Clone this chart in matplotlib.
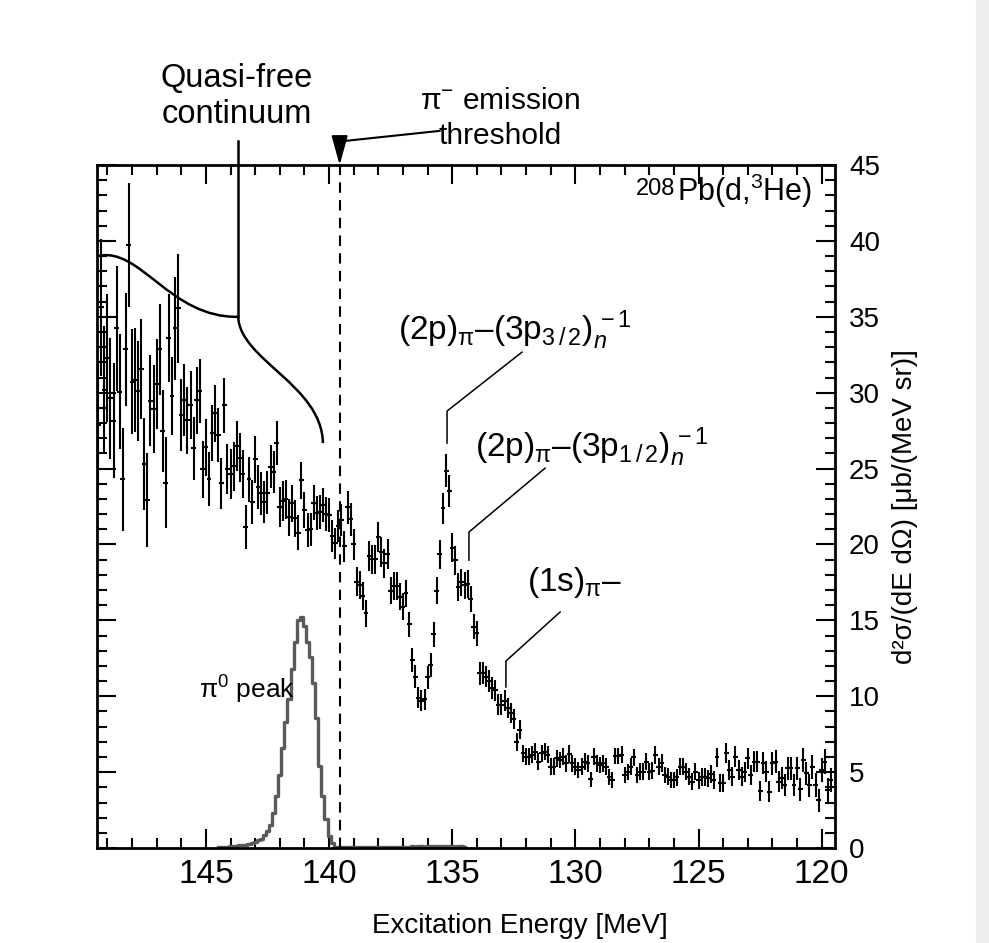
import numpy as np
import matplotlib.pyplot as plt
from matplotlib.ticker import MultipleLocator
from matplotlib.path import Path
from matplotlib.patches import PathPatch, Rectangle

plt.rcParams['font.family'] = ['Liberation Sans', 'DejaVu Sans']
plt.rcParams['mathtext.fontset'] = 'custom'
plt.rcParams['mathtext.rm'] = 'Liberation Sans'
plt.rcParams['mathtext.it'] = 'Liberation Sans:italic'
plt.rcParams['mathtext.bf'] = 'Liberation Sans:bold'

# spectrum binning (MeV), bins run from low to high excitation energy
bin_width = 0.125
e_first = 119.625
threshold = 139.57

# 208Pb(d,3He) cross section per bin
xs = [
    4.48, 3.82, 5.69, 5.14, 3.16, 4.15, 5.36, 4.15, 4.92, 5.80,
    3.86, 5.25, 4.15, 5.25, 5.25, 4.15, 4.59, 4.37, 5.69, 5.58,
    3.71, 5.03, 5.58, 3.78, 5.69, 5.69, 4.81, 5.91, 5.03, 4.70,
    5.14, 6.02, 4.70, 5.14, 6.24, 4.26, 4.26, 5.97, 4.48, 4.88,
    4.59, 4.70, 4.70, 4.48, 5.03, 4.37, 4.70, 5.03, 5.36, 5.36,
    4.66, 4.48, 4.48, 4.70, 4.81, 5.62, 5.36, 6.13, 5.10, 5.03,
    5.69, 5.03,
    5.03, 4.81, 5.97, 5.36, 5.03, 4.81, 6.13, 6.06, 6.06, 4.48,
    4.70, 5.36, 5.58, 5.47, 5.58, 6.02, 4.52, 5.58, 5.69, 5.36,
    5.14, 5.36, 5.58, 6.19, 5.58, 6.02, 5.80, 5.91, 5.36, 5.36,
    6.13, 6.35, 6.24, 5.69, 6.35, 6.13, 6.02, 6.02, 6.24,
    7.80, 7.00, 8.50, 8.90, 9.20, 9.70, 9.45, 9.45, 10.40, 10.55,
    11.00, 11.30, 11.55, 11.50, 14.15, 14.58,
    16.40, 17.40, 17.30, 17.50, 17.20, 18.95, 19.80, 23.50, 24.85, 22.40,
    19.35, 16.95, 14.08, 12.06, 11.24, 9.79, 9.71, 9.90, 11.29, 12.38,
    14.73,
    16.78, 15.90, 16.56, 17.26, 17.26, 16.95, 19.37, 18.75, 19.52, 20.51,
    19.02, 19.02, 19.24, 15.46, 16.60, 17.33, 17.54, 20.03, 21.65, 22.44,
    19.89, 21.61,
    21.21, 20.07, 20.55, 21.94, 22.00, 22.60, 22.16, 22.09, 22.75, 20.99,
    20.95, 22.27, 24.24, 20.77, 21.72, 22.71, 21.78, 22.97, 22.85, 22.49,
    26.70, 24.79, 25.12, 23.41, 22.81, 23.36, 23.76, 25.60, 22.81, 24.29,
    21.12, 24.64, 25.73, 26.48, 25.16, 24.64, 24.97, 29.18, 24.02, 27.21,
    28.63, 27.32, 24.31, 26.39, 24.94, 30.13, 29.51, 26.33, 29.18, 28.19,
    29.51, 28.52, 35.55, 34.23, 29.78, 33.62, 24.07, 27.47, 32.85, 30.57,
    28.90, 29.47, 22.92, 25.30, 31.55, 30.13, 30.83, 30.72, 39.72, 32.85,
    24.29, 30.06, 34.23, 28.15, 29.62, 32.30, 30.21, 35.62, 27.87,
]

xs_err = [
    0.80, 0.78, 0.82, 0.80, 0.76, 0.78, 0.80, 0.76, 0.78, 0.80,
    0.74, 0.76, 0.72, 0.76, 0.74, 0.72, 0.72, 0.70, 0.74, 0.74,
    0.68, 0.70, 0.72, 0.66, 0.70, 0.70, 0.68, 0.70, 0.66, 0.64,
    0.66, 0.68, 0.62, 0.64, 0.66, 0.60, 0.60, 0.64, 0.60, 0.62,
    0.58, 0.60, 0.58, 0.56, 0.58, 0.56, 0.56, 0.58, 0.58, 0.58,
    0.56, 0.54, 0.54, 0.55, 0.55, 0.58, 0.56, 0.58, 0.55, 0.54,
    0.56, 0.54,
    0.54, 0.52, 0.56, 0.54, 0.52, 0.52, 0.56, 0.55, 0.55, 0.50,
    0.52, 0.54, 0.55, 0.54, 0.55, 0.56, 0.50, 0.55, 0.55, 0.54,
    0.52, 0.54, 0.55, 0.57, 0.55, 0.56, 0.55, 0.56, 0.54, 0.54,
    0.56, 0.57, 0.57, 0.55, 0.57, 0.56, 0.56, 0.56, 0.57,
    0.62, 0.60, 0.64, 0.65, 0.66, 0.68, 0.67, 0.67, 0.70, 0.70,
    0.72, 0.72, 0.74, 0.74, 0.82, 0.84,
    0.88, 0.90, 0.90, 0.90, 0.90, 0.95, 0.97, 1.05, 1.08, 1.02,
    0.96, 0.90, 0.82, 0.76, 0.74, 0.68, 0.68, 0.68, 0.74, 0.77,
    0.84,
    0.90, 0.88, 0.90, 0.92, 0.92, 0.90, 0.97, 0.96, 0.98, 1.00,
    0.97, 0.97, 0.98, 0.88, 0.92, 0.94, 0.95, 1.02, 1.06, 1.08,
    1.02, 1.06,
    1.06, 1.04, 1.05, 1.10, 1.10, 1.12, 1.12, 1.12, 1.14, 1.10,
    1.12, 1.16, 1.22, 1.16, 1.20, 1.24, 1.22, 1.28, 1.30, 1.32,
    1.45, 1.40, 1.42, 1.40, 1.38, 1.42, 1.45, 1.52, 1.45, 1.50,
    1.45, 1.58, 1.62, 1.66, 1.62, 1.62, 1.66, 1.82, 1.66, 1.80,
    1.88, 1.85, 1.78, 1.90, 1.85, 2.10, 2.20, 2.05, 2.25, 2.20,
    2.35, 2.35, 3.60, 3.40, 2.60, 2.90, 3.00, 2.70, 3.00, 2.95,
    2.90, 3.00, 3.10, 3.00, 3.30, 3.30, 3.40, 3.45, 4.10, 3.70,
    3.40, 3.80, 4.10, 3.80, 4.00, 4.20, 4.20, 4.50, 4.20,
]

# simulated pi0 peak (grey histogram), same binning, starting at 134.5 MeV
pi0_first = 134.5
pi0_counts = [
    0.10, 0.12, 0.12, 0.10, 0.12, 0.14, 0.12, 0.12, 0.14, 0.12,
    0.12, 0.14, 0.12, 0.10, 0.12, 0.12, 0.10, 0.12, 0.10, 0.10,
    0.10, 0.08, 0.10, 0.10, 0.08, 0.08, 0.10, 0.08, 0.08, 0.06,
    0.06, 0.06, 0.05, 0.05, 0.06, 0.05, 0.04, 0.05, 0.05, 0.05,
    0.05, 0.06, 0.10, 0.30, 0.80, 1.90, 3.40, 5.40, 8.60, 10.90,
    12.60, 13.60, 14.60, 15.20, 15.00, 13.60, 11.80, 9.80, 8.30, 6.60,
    4.80, 3.40, 2.30, 1.50, 1.10, 0.85, 0.62, 0.50, 0.40, 0.32,
    0.26, 0.22, 0.20, 0.18, 0.16, 0.14, 0.12, 0.10, 0.10, 0.08, 0.06,
]

fig = plt.figure(figsize=(9.89, 9.43), dpi=100)
fig.patches.append(Rectangle((0.987, 0), 0.013, 1, transform=fig.transFigure,
                             color='#eeeeee', zorder=0))
ax = fig.add_axes([0.0981, 0.1007, 0.7462, 0.7243])

energy = e_first + bin_width * np.arange(len(xs))
ax.errorbar(energy, xs, yerr=xs_err, xerr=0.1, fmt='none',
            ecolor='black', elinewidth=1.5, capsize=0)

pi0_e = pi0_first + bin_width * np.arange(len(pi0_counts))
ax.step(pi0_e, pi0_counts, where='mid', color='#5a5a5a', lw=2.4)

ax.axvline(threshold, color='black', ls=(0, (5, 3.5)), lw=1.5)

ax.set_xlim(149.42, 119.46)
ax.set_ylim(0, 45)
ax.xaxis.set_major_locator(MultipleLocator(5))
ax.xaxis.set_minor_locator(MultipleLocator(1))
ax.yaxis.set_major_locator(MultipleLocator(5))
ax.yaxis.set_minor_locator(MultipleLocator(1))
ax.tick_params(which='both', direction='in', top=True, bottom=True,
               left=True, right=True, labelleft=False, labelright=True,
               width=1.5)
ax.tick_params(which='major', length=14, pad=10)
ax.tick_params(which='minor', length=7)
ax.tick_params(axis='x', which='major', labelsize=24, pad=8)
ax.tick_params(axis='y', which='major', labelsize=20)
for s in ax.spines.values():
    s.set_linewidth(2)

ax.set_xlabel('Excitation Energy [MeV]', fontsize=20)
ax.xaxis.set_label_coords(0.573, -0.095)
ax.yaxis.set_label_position('right')
ax.set_ylabel('d²σ/(dE dΩ) [μb/(MeV sr)]', fontsize=20,
              rotation=90, ha='center', va='center')
ax.yaxis.set_label_coords(1.095, 0.5)

# reaction label, mass number drawn as its own raised text
reaction = ax.text(120.39, 42.6, r'Pb(d,$^{3}$He)', fontsize=22,
                   ha='right', va='baseline')
fig.canvas.draw()
bb = reaction.get_window_extent()
fig.text((bb.x0 - 2) / fig.bbox.width, (bb.y0 + 15) / fig.bbox.height, '208',
         fontsize=17, ha='right', va='baseline')

ax.text(143.74, 49.5, 'Quasi-free\ncontinuum', fontsize=23.5, ha='center',
        va='center', linespacing=1.2, clip_on=False)
ax.plot([143.69, 143.69], [46.6, 35.0], color='black', lw=1.8, clip_on=False)
brace = Path([(149.38, 39.0), (147.67, 39.66), (146.46, 34.91), (143.69, 35.0),
              (143.62, 32.15), (140.29, 30.5), (140.25, 26.68)],
             [Path.MOVETO, Path.CURVE4, Path.CURVE4, Path.CURVE4,
              Path.CURVE4, Path.CURVE4, Path.CURVE4])
ax.add_patch(PathPatch(brace, fill=False, lw=1.8, color='black'))

ax.text(133.06, 48.06, r'$\mathrm{\pi}^{-}$ emission' + '\nthreshold',
        fontsize=21.5, ha='center', va='center', linespacing=1.3,
        clip_on=False)
ax.plot([135.51, threshold], [47.25, 46.55], color='black', lw=1.5,
        clip_on=False)
ax.annotate('', xy=(threshold, 45.0), xytext=(threshold, 46.6),
            arrowprops=dict(arrowstyle='-|>,head_length=0.9,head_width=0.25',
                            mutation_scale=20, color='black', lw=1.5,
                            shrinkA=0, shrinkB=0),
            annotation_clip=False)

ax.text(132.45, 34.12,
        r'(2p)$_{\mathrm{\pi}}$–(3p$_{3\,/\,2}$)$_{n}^{\,-1}$',
        fontsize=24, ha='center', va='center')
ax.plot([135.21, 135.21, 132.17], [26.68, 28.79, 32.67], color='black', lw=1.1)

ax.text(129.33, 26.42,
        r'(2p)$_{\mathrm{\pi}}$–(3p$_{1\,/\,2}$)$_{n}^{\,-1}$',
        fontsize=24, ha='center', va='center')
ax.plot([134.32, 134.32, 131.23], [18.97, 20.82, 25.03], color='black', lw=1.1)

ax.text(130.02, 17.52, r'(1s)$_{\mathrm{\pi}}$–', fontsize=24,
        ha='center', va='center')
ax.plot([132.82, 132.82, 130.62], [10.61, 12.32, 15.55], color='black', lw=1.1)

ax.text(143.35, 10.41, r'$\mathrm{\pi}^{0}$ peak', fontsize=19,
        ha='center', va='center')

fig.savefig('out.png', dpi=100)
